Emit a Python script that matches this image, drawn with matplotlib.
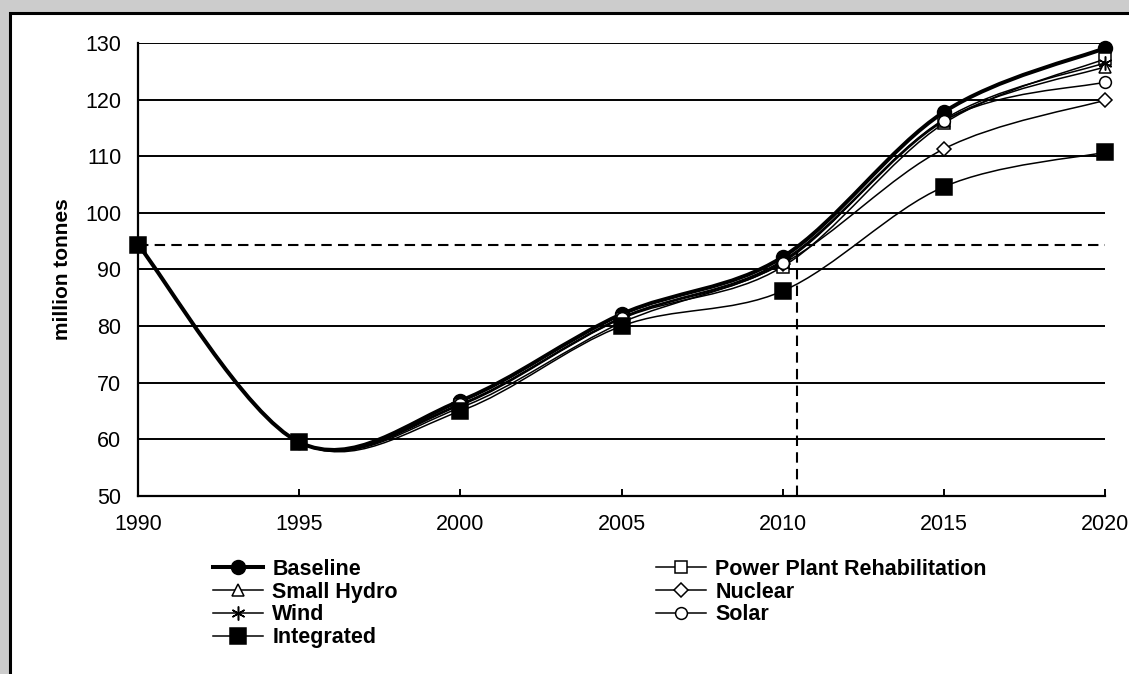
import matplotlib
matplotlib.use('Agg')
import matplotlib.pyplot as plt
from matplotlib.path import Path
from matplotlib.patches import PathPatch, Rectangle
from matplotlib.lines import Line2D
import numpy as np

plt.rcParams['font.family'] = ['Liberation Sans', 'DejaVu Sans']

years = [1990, 1995, 2000, 2005, 2010, 2015, 2020]
baseline = [94.4, 59.5, 66.8, 82.1, 92.2, 117.8, 129.1]
ppr = [94.4, 59.5, 66.0, 81.3, 90.5, 115.8, 127.2]
small_hydro = [94.4, 59.5, 66.2, 81.5, 91.4, 116.2, 125.8]
nuclear = [94.4, 59.5, 65.6, 80.6, 91.0, 111.3, 119.9]
wind = [94.4, 59.5, 66.2, 81.5, 91.6, 116.5, 126.5]
solar = [94.4, 59.5, 66.2, 81.4, 91.2, 116.3, 123.1]
integrated = [94.4, 59.5, 65.0, 80.0, 86.2, 104.6, 110.7]

ref_level = 94.4
ref_year = 2010.45

series = [
    ('Baseline', baseline, 'o', 10, 'black', 2.9),
    ('Power Plant Rehabilitation', ppr, 's', 8, 'white', 1.1),
    ('Small Hydro', small_hydro, '^', 8.5, 'white', 1.1),
    ('Nuclear', nuclear, 'D', 7, 'white', 1.1),
    ('Wind', wind, (6, 2, 0), 10, 'black', 1.1),
    ('Solar', solar, 'o', 8.5, 'white', 1.1),
    ('Integrated', integrated, 's', 11.5, 'black', 1.1),
]


def smooth_path(x, y):
    # excel-like smoothed line: catmull-rom segments as cubic beziers
    p = np.column_stack([x, y]).astype(float)
    n = len(p)
    verts = [p[0]]
    codes = [Path.MOVETO]
    for i in range(n - 1):
        p0 = p[i - 1] if i > 0 else p[i]
        p3 = p[i + 2] if i + 2 < n else p[i + 1]
        c1 = p[i] + (p[i + 1] - p0) / 6
        c2 = p[i + 1] - (p3 - p[i]) / 6
        verts += [c1, c2, p[i + 1]]
        codes += [Path.CURVE4] * 3
    return Path(verts, codes)


fig = plt.figure(figsize=(11.29, 6.74), dpi=100)
fig.patch.set_facecolor('#cccccc')
fig.add_artist(Rectangle((10 / 1129, -0.1), 1.2, 1 - 13 / 674 + 0.1,
                         transform=fig.transFigure, facecolor='white',
                         edgecolor='black', linewidth=2.2, zorder=0))

ax = fig.add_axes([138 / 1129, 1 - 496 / 674, (1105 - 138) / 1129, (496 - 43) / 674])
ax.set_facecolor('white')

for v in range(60, 131, 10):
    ax.axhline(v, color='black', linewidth=1.4, zorder=1)

ax.plot([years[0], years[-1]], [ref_level, ref_level], color='black',
        linewidth=1.5, linestyle=(0, (5, 3)), zorder=2)
ax.plot([ref_year, ref_year], [50, ref_level], color='black',
        linewidth=1.5, linestyle=(0, (5, 3)), zorder=2)

handles = {}
for z, (name, vals, mk, ms, mfc, lw) in enumerate(series):
    ax.add_patch(PathPatch(smooth_path(years, vals), facecolor='none',
                           edgecolor='black', linewidth=lw, zorder=3 + z,
                           capstyle='round', joinstyle='round'))
    ax.plot(years, vals, linestyle='none', marker=mk, markersize=ms,
            markerfacecolor=mfc, markeredgecolor='black', markeredgewidth=1.1,
            zorder=3.5 + z, clip_on=False)
    handles[name] = Line2D([], [], color='black', linewidth=lw, marker=mk,
                           markersize=ms, markerfacecolor=mfc,
                           markeredgecolor='black', markeredgewidth=1.1)

ax.set_xlim(1990, 2020)
ax.set_ylim(50, 130)
ax.set_xticks(years)
ax.set_yticks(range(50, 131, 10))
ax.tick_params(axis='x', direction='in', length=5, width=1.4, pad=13,
               labelsize=15.5, colors='black')
ax.tick_params(axis='y', direction='in', length=0, width=1.4, pad=12,
               labelsize=15.5, colors='black')
for s in ['top', 'right']:
    ax.spines[s].set_visible(False)
for s in ['left', 'bottom']:
    ax.spines[s].set_linewidth(1.6)
ax.set_ylabel('million tonnes', fontsize=15, fontweight='bold')
ax.yaxis.set_label_coords(-66 / 967, 0.5)

order = ['Baseline', 'Small Hydro', 'Wind', 'Integrated',
         'Power Plant Rehabilitation', 'Nuclear', 'Solar']
leg = fig.legend([handles[k] for k in order], order, ncol=2,
                 loc='upper left', bbox_to_anchor=(213 / 1129, 1 - 559 / 674),
                 frameon=False, prop={'weight': 'bold', 'size': 15.5},
                 handlelength=2.3, handletextpad=0.45, labelspacing=0.08,
                 columnspacing=12.0, borderpad=0, borderaxespad=0)

fig.savefig('out.png', dpi=100, facecolor=fig.get_facecolor())
